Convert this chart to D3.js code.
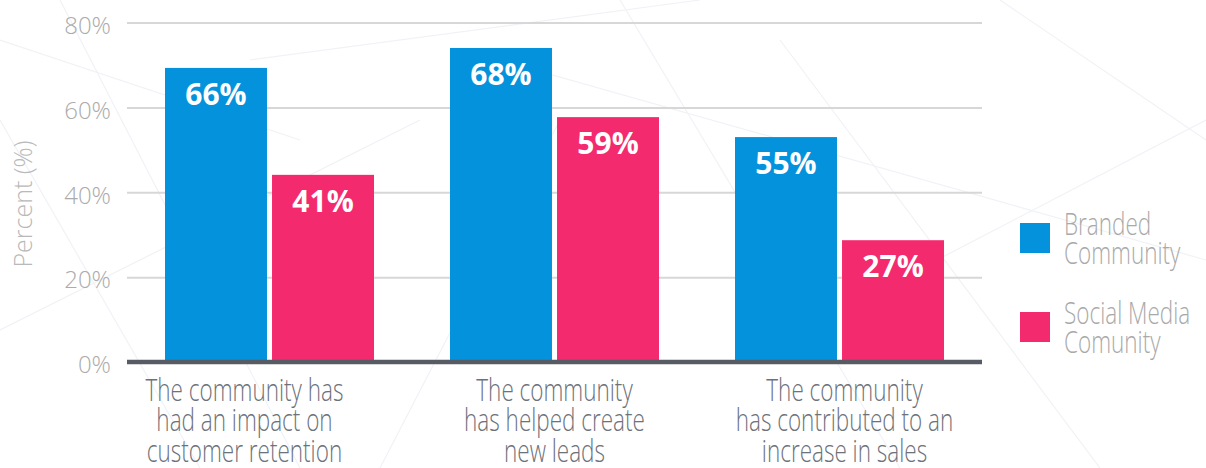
<!DOCTYPE html>
<html>
<head>
<meta charset="utf-8">
<script src="https://cdn.jsdelivr.net/npm/d3@7"></script>
<style>
  body { margin: 0; background: #fff; }
  svg { display: block; }
  .tick text { font-family: "Open Sans", sans-serif; font-weight: 300; }
  .narrow { font-family: "Open Sans", sans-serif; font-weight: 300; }
</style>
</head>
<body>
<svg width="1206" height="468"></svg>
<script>
// data
var categories = [
  ["The community has", "had an impact on", "customer retention"],
  ["The community", "has helped create", "new leads"],
  ["The community", "has contributed to an", "increase in sales"]
];
var seriesNames = ["Branded Community", "Social Media Comunity"];
var legendLines = [["Branded", "Community"], ["Social Media", "Comunity"]];
// bar heights as drawn (they don't quite agree with the printed labels)
var branded = [69.3, 74.0, 53.0];
var social = [44.1, 57.7, 28.7];
var brandedLabels = ["66%", "68%", "55%"];
var socialLabels = ["41%", "59%", "27%"];
var yTicks = [0, 20, 40, 60, 80];

var svg = d3.select("svg"),
    colors = ["#0592dc", "#f42a6f"];

// faint background texture
var bgLines = [[0, 330, 420, 120], [60, 0, 300, 468], [250, 60, 700, 0], [380, 468, 560, 120],
  [500, 60, 1206, 260], [620, 0, 900, 468], [780, 40, 1100, 468], [1000, 0, 1206, 140],
  [0, 120, 200, 468], [860, 300, 1206, 120], [0, 40, 300, 140]];
svg.append("g").selectAll("line").data(bgLines).enter().append("line")
    .attr("x1", function(d) { return d[0]; }).attr("y1", function(d) { return d[1]; })
    .attr("x2", function(d) { return d[2]; }).attr("y2", function(d) { return d[3]; })
    .attr("stroke", "#f0f2f7").attr("stroke-width", 1.2);

var y = d3.scaleLinear().domain([0, 80]).range([362, 22.5]);
var x0 = d3.scaleBand().domain(d3.range(categories.length)).range([127, 982]);
var x1 = d3.scaleBand().domain(d3.range(2)).range([38, 247]).paddingInner(0.047);

// gridlines + tick labels
var axis = svg.append("g")
    .attr("transform", "translate(127,0)")
    .call(d3.axisLeft(y).tickValues(yTicks).tickSize(-855).tickFormat(function(d) { return d + "%"; }));
axis.select(".domain").remove();
axis.selectAll(".tick line").attr("stroke", "#d7d7d7").attr("stroke-width", 2);
axis.selectAll(".tick text")
    .attr("x", -16).attr("dy", "0.45em")
    .attr("fill", "#ababab").style("font-size", "24px");

svg.append("text")
    .attr("transform", "translate(32,204) rotate(-90)")
    .attr("text-anchor", "middle")
    .attr("class", "narrow")
    .style("font-size", "25px").attr("fill", "#b9b9b9")
    .text("Percent (%)");

var rows = categories.map(function(c, i) {
  return [
    { v: branded[i], label: brandedLabels[i], s: 0 },
    { v: social[i], label: socialLabels[i], s: 1 }
  ];
});

var groups = svg.append("g").selectAll("g").data(rows).enter().append("g")
    .attr("transform", function(d, i) { return "translate(" + x0(i) + ",0)"; });

groups.selectAll("rect").data(function(d) { return d; }).enter().append("rect")
    .attr("x", function(d) { return x1(d.s); })
    .attr("y", function(d) { return y(d.v); })
    .attr("width", x1.bandwidth())
    .attr("height", function(d) { return y(0) - y(d.v); })
    .attr("fill", function(d) { return colors[d.s]; });

groups.selectAll(".val").data(function(d) { return d; }).enter().append("text")
    .attr("class", "val")
    .attr("x", function(d) { return x1(d.s) + x1.bandwidth() / 2; })
    .attr("y", function(d) { return y(d.v) + 37; })
    .attr("text-anchor", "middle")
    .style("font-family", "'Open Sans', sans-serif").style("font-weight", 700)
    .style("font-size", "30px").attr("fill", "#fff")
    .text(function(d) { return d.label; });

// baseline
svg.append("line")
    .attr("x1", 127).attr("x2", 982).attr("y1", y(0)).attr("y2", y(0))
    .attr("stroke", "#575c64").attr("stroke-width", 4.5);

// category labels; the original uses a condensed face, so squeeze horizontally
var labelShift = [-25, 0, 5];
var cat = svg.append("g").selectAll("text").data(categories).enter().append("text")
    .attr("text-anchor", "middle")
    .attr("class", "narrow")
    .style("font-size", "31px").attr("fill", "#6c717a");
cat.selectAll("tspan").data(function(d) { return d; }).enter().append("tspan")
    .attr("x", 0).attr("y", function(d, j) { return j * 30.3; })
    .text(function(d) { return d; });

var squeeze = 198 / cat.select("tspan").node().getComputedTextLength();
cat.attr("transform", function(d, i) {
  return "translate(" + (x0(i) + x0.bandwidth() / 2 + labelShift[i]) + ",401) scale(" + squeeze + ",1)";
});

// legend
var leg = svg.append("g").selectAll("g").data(seriesNames).enter().append("g")
    .attr("transform", function(d, i) { return "translate(1020," + (223 + i * 89) + ")"; });
leg.append("rect").attr("width", 30).attr("height", 30)
    .attr("fill", function(d, i) { return colors[i]; });
var lt = leg.append("text")
    .attr("class", "narrow")
    .attr("transform", "translate(44,0) scale(" + squeeze + ",1)")
    .style("font-size", "31px").attr("fill", "#a9a9a9");
lt.selectAll("tspan").data(function(d, i) { return legendLines[i]; }).enter().append("tspan")
    .attr("x", 0).attr("y", function(d, j) { return 11.5 + j * 29.7; })
    .text(function(d) { return d; });
</script>
</body>
</html>
